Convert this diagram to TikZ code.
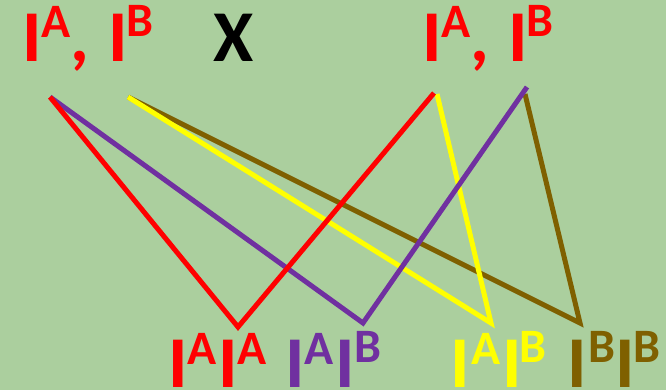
\documentclass[tikz,border=0pt]{standalone}
\usepackage{fontspec}
\setmainfont{Carlito}
\definecolor{bg}{RGB}{171,207,158}
\definecolor{pur}{RGB}{112,48,160}
\definecolor{brn}{RGB}{127,96,0}
\definecolor{yel}{RGB}{255,255,0}
\tikzset{
  big/.style={anchor=base west,inner sep=0pt,font=\fontsize{73}{73}\selectfont\bfseries},
  sup/.style={anchor=base west,inner sep=0pt,font=\fontsize{48}{48}\selectfont\bfseries},
  ln/.style={line width=5pt,line join=miter}
}
\begin{document}
\begin{tikzpicture}[x=1pt,y=-1pt]
\fill[bg] (0,0) rectangle (666,390);
\useasboundingbox (0,0) rectangle (666,390);
% top-left label
\node[big,text=red] (tlI1) at (22,62) {I};
\node[sup,text=red] (tlA) at (41.5,38) {A};
\node[big,text=red] (tlc) at (70,62) {,};
\node[big,text=red] (tlI2) at (108,62) {I};
\node[sup,text=red] (tlB) at (126.5,37) {B};
% X
\node[big,text=black] (x) at (213,62) {X};
% top-right label
\node[big,text=red] (trI1) at (422,62) {I};
\node[sup,text=red] (trA) at (441.5,38) {A};
\node[big,text=red] (trc) at (470,62) {,};
\node[big,text=red] (trI2) at (508,62) {I};
\node[sup,text=red] (trB) at (526.5,37) {B};
% bottom red
\node[big,text=red] (b1I1) at (168,387) {I};
\node[sup,text=red] (b1A1) at (187.5,364) {A};
\node[big,text=red] (b1I2) at (218,387) {I};
\node[sup,text=red] (b1A2) at (237.5,364) {A};
% bottom purple
\node[big,text=pur] (b2I1) at (285,387) {I};
\node[sup,text=pur] (b2A) at (304.5,364) {A};
\node[big,text=pur] (b2I2) at (335,387) {I};
\node[sup,text=pur] (b2B) at (354.5,362) {B};
% bottom yellow
\node[big,text=yel] (b3I1) at (450,387) {I};
\node[sup,text=yel] (b3A) at (471.5,364) {A};
\node[big,text=yel] (b3I2) at (502,387) {I};
\node[sup,text=yel] (b3B) at (519.5,362) {B};
% bottom brown
\node[big,text=brn] (b4I1) at (567,387) {I};
\node[sup,text=brn] (b4B1) at (588.5,362) {B};
\node[big,text=brn] (b4I2) at (615,387) {I};
\node[sup,text=brn] (b4B2) at (633.5,362) {B};
% coordinates
\coordinate (L1) at (50,97);
\coordinate (L2) at (128,97);
\coordinate (R1) at (434,93);
\coordinate (R1y) at (437,94);
\coordinate (R2) at (527,87);
\coordinate (R2b) at (525,94);
\coordinate (Vr) at (238,327);
\coordinate (Vp) at (363,323);
\coordinate (Vy) at (491,323);
\coordinate (Vb) at (580,323);
% lines
\draw[ln,brn] (L2) -- (Vb) -- (R2b);
\draw[ln,yel] (L2) -- (Vy) -- (R1y);
\draw[ln,pur] (L1) -- (Vp) -- (R2);
\draw[ln,red] (L1) -- (Vr) -- (R1);
\end{tikzpicture}
\end{document}
